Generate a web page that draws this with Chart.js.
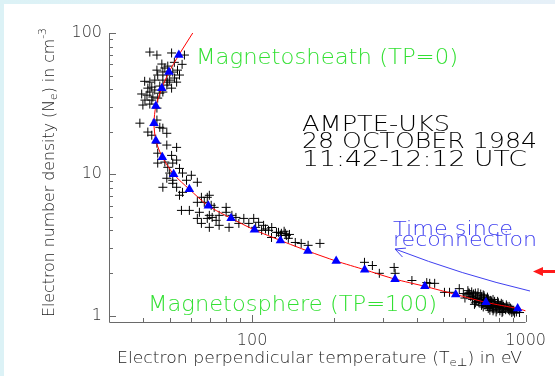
<!DOCTYPE html>
<html><head><meta charset="utf-8">
<script src="https://cdn.jsdelivr.net/npm/chart.js@4.4.1/dist/chart.umd.min.js"></script>
<style>html,body{margin:0;padding:0;background:#fff;}canvas{display:block;}</style>
</head><body>
<canvas id="c" width="555" height="376"></canvas>
<script>
// ---------- DATA ----------
// individual measurements (black +): perpendicular temperature (eV), density (cm^-3)
const obsT = [42.3,44.9,50.8,56.6,44.9,48.0,51.3,54.3,44.1,47.2,50.0,43.0,46.0,48.8,41.3,43.4,46.0,39.9,43.0,46.8,49.2,52.1,45.2,48.8,42.3,49.2,53.0,44.1,47.2,41.6,45.2,40.6,42.3,44.9,39.5,47.2,53.4,50.8,42.3,55.5,52.0,40.5,
  38.9,46.0,47.2,41.6,43.0,44.9,53.0,48.8,48.8,45.2,50.8,53.0,45.2,49.2,50.0,55.7,48.8,51.3,57.6,63.1,47.2,53.0,55.7,54.3,65.3,69.8,63.1,66.9,70.9,72.7,55.2,59.0,64.2,69.8,71.5,75.8,80.4,68.6,73.9,63.1,65.3,69.8,75.8,82.4,87.3,93.3,89.5,97.3,101.4,105.7,108.4,110.2,60.0,51.3,68.6,80.4,84.4,103.1,48.0,51.3,54.3,44.9,
  114.9,124.9,133.5,128.0,135.7,143.9,151.2,160.3,177.1,117.8,122.8,132.3,112,118,127,131,137,
  257.6,275.3,291.9,330.6,333.4,384,435,446,465,505,527,572,592,622,
  610,630,645,655,665,680,690,700,705,715,720,730,735,745,750,760,770,780,790,800,810,820,830,845,860,875,890,900,640,660,675,695,710,725,740,755,765,785,805,825,620,670,700,725,760,790,815,850,870,700,740,780,820,600,650,
  615,635,655,685,705,730,745,770,795,825,855,880,905,925,640,665,690,720,750,775,800,835,865,890,760,730,690,655,950,910];
const obsN = [73.3,69.8,72.2,69.8,54.6,56.5,52.9,50.4,46.4,46.4,46.4,41.4,42.1,42.8,36.3,35.2,37.5,30.9,33.5,60.3,58.3,48.0,50.4,50.4,44.9,44.9,44.9,39.5,38.2,40.7,34.6,33.5,31.4,29.4,37.0,53.0,54.6,40.7,38.2,60.0,62.0,45.5,
  23.0,21.5,21.2,19.9,18.9,16.6,15.5,19.5,16.1,14.1,13.6,12.6,12.0,11.2,10.2,10.2,9.37,9.07,9.07,8.78,8.09,8.09,7.45,7.10,6.87,7.10,6.33,6.33,6.03,5.83,5.55,5.55,5.38,5.12,4.95,5.12,5.38,4.87,4.72,4.87,4.49,4.21,4.35,4.21,4.95,4.87,4.49,4.49,4.87,4.57,4.01,4.35,9.84,8.63,6.87,5.83,5.12,4.21,12.2,12.0,11.0,24.2,
  4.01,3.88,3.69,3.82,3.52,3.29,3.24,3.14,3.24,3.57,3.88,3.82,4.1,4.2,3.7,3.95,3.75,
  2.38,2.26,1.99,2.19,1.99,1.77,1.71,1.69,1.69,1.46,1.46,1.55,1.43,1.43,
  1.40,1.36,1.42,1.33,1.38,1.30,1.35,1.28,1.33,1.25,1.30,1.22,1.27,1.20,1.25,1.18,1.22,1.16,1.20,1.14,1.18,1.12,1.16,1.10,1.13,1.08,1.11,1.07,1.30,1.26,1.24,1.21,1.19,1.16,1.14,1.13,1.11,1.10,1.08,1.07,1.45,1.45,1.40,1.35,1.30,1.26,1.22,1.19,1.16,1.15,1.09,1.06,1.05,1.33,1.20,
  1.50,1.47,1.44,1.42,1.38,1.31,1.28,1.26,1.23,1.20,1.16,1.13,1.09,1.06,1.35,1.32,1.27,1.24,1.21,1.19,1.17,1.13,1.10,1.05,1.08,1.12,1.18,1.23,1.05,1.04];
// binned averages (blue triangles)
const avgT = [54.0,49.7,46.8,44.5,43.8,44.5,47.0,51.7,59.0,69.2,83.8,102,127,160,203,258,333,428,555,716,935];
const avgN = [69.8,52.9,40.7,30.4,23.0,17.3,13.2,10.0,7.83,5.98,4.88,4.04,3.40,2.86,2.43,2.11,1.81,1.61,1.41,1.24,1.12];
// fitted curve (red line)
const fitT = [60.7,54.0,49.7,46.8,44.5,43.8,44.5,47.0,51.7,59.0,69.2,83.8,102,127,160,203,258,333,428,555,716,935,1000];
const fitN = [100,69.8,52.9,40.7,30.4,23.0,17.3,13.2,10.0,7.83,5.98,4.88,4.04,3.40,2.86,2.43,2.11,1.81,1.61,1.41,1.24,1.12,1.08];
// axis tick labels
const xTickLabels = [100, 1000];
const yTickLabels = [1, 10, 100];
const xRange = [30, 1000];
const yRange = [0.9, 100];

// ---------- RENDER ----------
const FONT = "'DejaVu Sans', sans-serif";
const WEIGHT = '200';

function richText(ctx, parts, x, y, targetW, color, rot) {
  ctx.save();
  ctx.translate(x, y);
  if (rot) ctx.rotate(rot);
  let total = 0;
  const ws = parts.map(p => { ctx.font = `${WEIGHT} ${p[1]}px ${FONT}`; const w = ctx.measureText(p[0]).width; total += w; return w; });
  ctx.scale(targetW / total, 1);
  ctx.fillStyle = color; ctx.textAlign = 'left'; ctx.textBaseline = 'alphabetic';
  let cx = 0;
  parts.forEach((p, i) => { ctx.font = `${WEIGHT} ${p[1]}px ${FONT}`; ctx.fillText(p[0], cx, p[2]); cx += ws[i]; });
  ctx.restore();
}

const bgPlugin = {
  id: 'bg',
  beforeDraw(chart) {
    const ctx = chart.ctx;
    ctx.save();
    const g = ctx.createLinearGradient(0, 0, 555, 0);
    g.addColorStop(0, '#dcf2f6'); g.addColorStop(1, '#e6f0f8');
    ctx.fillStyle = g; ctx.fillRect(0, 0, 555, 376);
    ctx.fillStyle = '#ffffff'; ctx.fillRect(4, 4, 551, 372);
    ctx.restore();
  }
};

const axesPlugin = {
  id: 'idlAxes',
  afterDatasetsDraw(chart) {
    const { ctx, chartArea: a, scales: { x, y } } = chart;
    ctx.save();
    ctx.strokeStyle = '#6a6a6a'; ctx.lineWidth = 1;
    ctx.beginPath();
    ctx.moveTo(Math.round(a.left) + 0.5, a.top);
    ctx.lineTo(Math.round(a.left) + 0.5, Math.round(a.bottom) + 0.5);
    ctx.lineTo(a.right, Math.round(a.bottom) + 0.5);
    ctx.stroke();
    ctx.beginPath();
    for (let e = -1; e <= 3; e++) {
      for (let m = 1; m <= 9; m++) {
        const v = m * Math.pow(10, e);
        const len = m === 1 ? 7 : 4;
        if (v >= 1 && v <= y.max * 1.0001) {
          const py = Math.round(y.getPixelForValue(v)) + 0.5;
          ctx.moveTo(a.left, py); ctx.lineTo(a.left + len, py);
        }
        if (v > x.min && v <= x.max * 1.0001) {
          const px = Math.round(x.getPixelForValue(v)) + 0.5;
          ctx.moveTo(px, a.bottom); ctx.lineTo(px, a.bottom - len);
        }
      }
    }
    ctx.stroke();
    ctx.restore();
  },
  afterDraw(chart) {
    const ctx = chart.ctx;
    // axis titles
    richText(ctx, [['Electron perpendicular temperature (T', 16, 0], ['e\u22A5', 11, 3], [') in eV', 16, 0]], 117, 363, 405, '#222');
    richText(ctx, [['Electron number density (N', 16, 0], ['e', 11, 3], [') in cm', 16, 0], ['-3', 11, -8]], 54, 317, 289, '#222', -Math.PI / 2);
    // annotations
    const green = '#33e033';
    richText(ctx, [['Magnetosheath (TP=0)', 21, 0]], 196, 64, 262, green);
    richText(ctx, [['Magnetosphere (TP=100)', 21, 0]], 148, 311, 289, green);
    richText(ctx, [['AMPTE-UKS', 21, 0]], 302, 131, 148, '#000');
    richText(ctx, [['28 OCTOBER 1984', 21, 0]], 302, 148, 235, '#000');
    richText(ctx, [['11:42-12:12 UTC', 21, 0]], 302, 166, 225, '#000');
    const blue = '#4040f0';
    richText(ctx, [['Time since', 20, 0]], 393, 235, 120, blue);
    richText(ctx, [['reconnection', 20, 0]], 393, 246, 144, blue);
    // blue curved arrow
    ctx.save();
    ctx.strokeStyle = blue; ctx.lineWidth = 1;
    const p0 = [530, 291], c = [462, 275], p2 = [395, 249];
    ctx.beginPath(); ctx.moveTo(p0[0], p0[1]); ctx.quadraticCurveTo(c[0], c[1], p2[0], p2[1]); ctx.stroke();
    const ang = Math.atan2(p2[1] - c[1], p2[0] - c[0]);
    ctx.beginPath();
    ctx.moveTo(p2[0] - 11 * Math.cos(ang - 0.45), p2[1] - 11 * Math.sin(ang - 0.45));
    ctx.lineTo(p2[0], p2[1]);
    ctx.lineTo(p2[0] - 11 * Math.cos(ang + 0.45), p2[1] - 11 * Math.sin(ang + 0.45));
    ctx.stroke();
    // red arrow at right edge
    ctx.fillStyle = '#ff1a1a'; ctx.strokeStyle = '#ff1a1a'; ctx.lineWidth = 3;
    ctx.beginPath(); ctx.moveTo(541, 271.5); ctx.lineTo(555, 271.5); ctx.stroke();
    ctx.beginPath(); ctx.moveTo(533, 271.5); ctx.lineTo(543, 267); ctx.lineTo(543, 276); ctx.closePath(); ctx.fill();
    ctx.restore();
  }
};

const tickFont = { family: FONT, size: 16, weight: WEIGHT };
new Chart(document.getElementById('c'), {
  type: 'scatter',
  data: {
    datasets: [
      { label: 'Bin averages', data: avgT.map((t, i) => ({ x: t, y: avgN[i] })), pointStyle: 'triangle', pointRadius: 5.5, backgroundColor: '#0000ff', borderColor: '#0000ff', borderWidth: 0, order: 0 },
      { label: 'Fit', data: fitT.map((t, i) => ({ x: t, y: fitN[i] })), showLine: true, pointRadius: 0, borderColor: '#ff0000', borderWidth: 1, tension: 0.25, order: 1 },
      { label: 'Measurements', data: obsT.map((t, i) => ({ x: t, y: obsN[i] })), pointStyle: 'cross', pointRadius: 4.5, borderColor: '#000', backgroundColor: '#000', borderWidth: 1, order: 2 }
    ]
  },
  options: {
    responsive: false, animation: false, devicePixelRatio: 1,
    layout: { padding: { top: 33, right: 25, left: 0, bottom: 0 } },
    plugins: { legend: { display: false }, tooltip: { enabled: false } },
    scales: {
      x: {
        type: 'logarithmic', min: xRange[0], max: xRange[1],
        grid: { display: false, drawTicks: false }, border: { display: false },
        afterBuildTicks: s => { s.ticks = xTickLabels.map(v => ({ value: v })); },
        afterFit: s => { s.height = 54; },
        ticks: { callback: v => String(v), autoSkip: false, maxRotation: 0, padding: 9, color: '#333', font: tickFont }
      },
      y: {
        type: 'logarithmic', min: yRange[0], max: yRange[1],
        grid: { display: false, drawTicks: false }, border: { display: false },
        afterBuildTicks: s => { s.ticks = yTickLabels.map(v => ({ value: v })); },
        afterFit: s => { s.width = 109; },
        ticks: { callback: v => String(v), autoSkip: false, padding: 7, color: '#333', font: tickFont }
      }
    }
  },
  plugins: [bgPlugin, axesPlugin]
});
</script>
</body></html>
